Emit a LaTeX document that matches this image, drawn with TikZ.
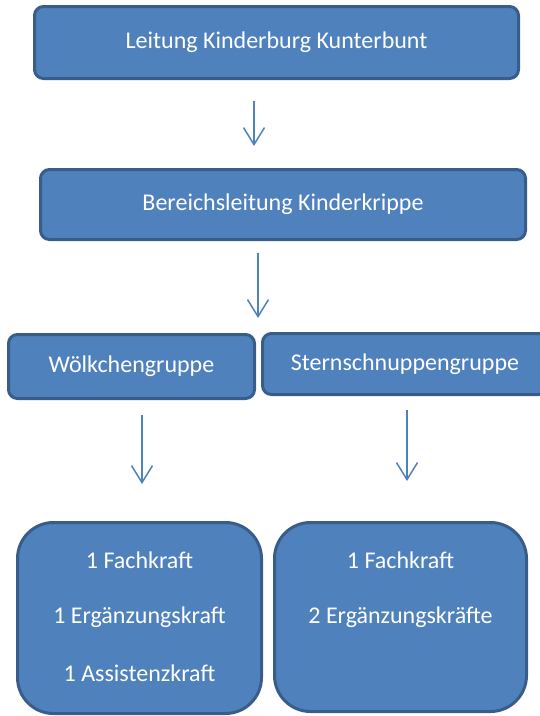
\documentclass[tikz,border=0pt]{standalone}
\usepackage{fontspec}
\setmainfont{Carlito}
\usetikzlibrary{arrows.meta}
\definecolor{boxfill}{HTML}{4F81BD}
\definecolor{boxline}{HTML}{385D8A}
\begin{document}
\begin{tikzpicture}[x=1pt,y=-1pt,
  box/.style={draw=boxline,fill=boxfill,line width=3pt,rounded corners=9pt,
    text=white,font=\fontsize{24}{28}\selectfont,inner sep=0pt},
  bigbox/.style={box,rounded corners=36pt},
  txt/.style={text=white,font=\fontsize{24}{28}\selectfont,inner sep=0pt},
  arr/.style={draw=boxfill,line width=1.5pt,-{Straight Barb[length=17pt,width=21pt,line width=1.5pt]}}
]
\useasboundingbox (0,0) rectangle (540,716);
\node[box,minimum width=484pt,minimum height=72pt] (top) at (276.5,42.5) {Leitung Kinderburg Kunterbunt};
\node[box,minimum width=485pt,minimum height=70pt] (bl) at (283,204.5) {Bereichsleitung Kinderkrippe};
\node[box,minimum width=246pt,minimum height=64pt] (g1) at (131.5,366.5) {Wölkchengruppe};
\node[box,minimum width=285pt,minimum height=61pt] (g2) at (405,364) {Sternschnuppengruppe};
\node[bigbox,minimum width=244pt,minimum height=191pt] (s1) at (139.5,618) {};
\node[bigbox,minimum width=252pt,minimum height=189pt] (s2) at (400.5,617) {};
\node[txt] (s1a) at (139.5,560) {1 Fachkraft};
\node[txt] (s1b) at (139.5,617) {1 Ergänzungskraft};
\node[txt] (s1c) at (139.5,673) {1 Assistenzkraft};
\node[txt] (s2a) at (400.5,560) {1 Fachkraft};
\node[txt] (s2b) at (400.5,617) {2 Ergänzungskräfte};
\coordinate (a1s) at (254,101);
\coordinate (a1e) at (254,146);
\coordinate (a2s) at (258,253);
\coordinate (a2e) at (258,318);
\coordinate (a3s) at (142,415);
\coordinate (a3e) at (142,484);
\coordinate (a4s) at (407,410);
\coordinate (a4e) at (407,481);
\draw[arr] (a1s) -- (a1e);
\draw[arr] (a2s) -- (a2e);
\draw[arr] (a3s) -- (a3e);
\draw[arr] (a4s) -- (a4e);
\end{tikzpicture}
\end{document}
